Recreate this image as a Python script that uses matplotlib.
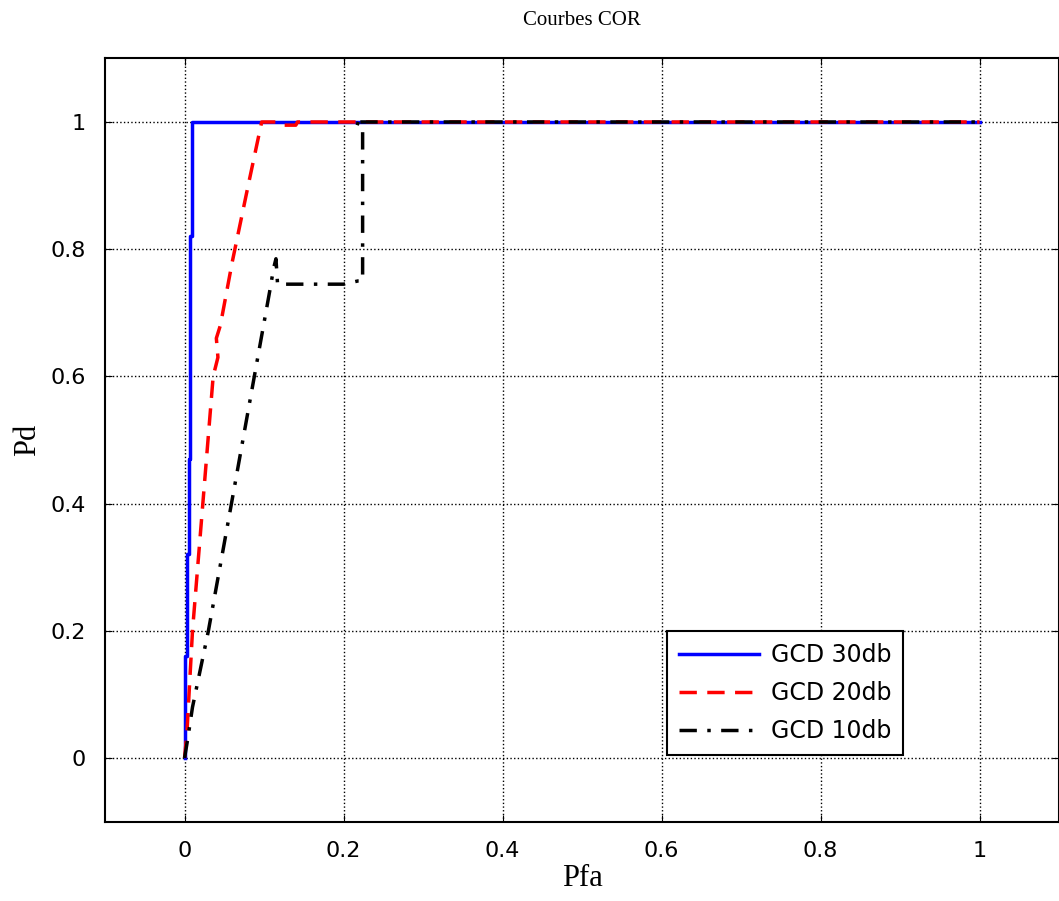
import numpy as np
import matplotlib.pyplot as plt

# ROC curves (Pfa vs Pd) for three SNR levels
pfa_30 = [0, 0, 0.003, 0.003, 0.005, 0.005, 0.007, 0.007, 0.009, 0.009, 1.0]
pd_30 = [0, 0.16, 0.16, 0.32, 0.32, 0.47, 0.47, 0.82, 0.82, 1.0, 1.0]

pfa_20 = [0, 0.003, 0.010, 0.023, 0.036, 0.042, 0.040, 0.045, 0.060,
          0.080, 0.097, 0.120, 0.125, 0.140, 0.142, 1.0]
pd_20 = [0, 0.04, 0.20, 0.40, 0.60, 0.63, 0.66, 0.68, 0.78,
         0.90, 1.0, 1.0, 0.995, 0.995, 1.0, 1.0]

pfa_10 = [0, 0.004, 0.010, 0.030, 0.059, 0.082, 0.108, 0.112, 0.115,
          0.117, 0.200, 0.218, 0.224, 0.224, 0.212, 0.226, 1.0]
pd_10 = [0, 0.03, 0.08, 0.20, 0.40, 0.56, 0.74, 0.77, 0.785,
         0.745, 0.745, 0.75, 0.75, 0.995, 1.0, 1.0, 1.0]

labels = ['GCD 30db', 'GCD 20db', 'GCD 10db']
ticks = [0, 0.2, 0.4, 0.6, 0.8, 1]
tick_labels = ['0', '0.2', '0.4', '0.6', '0.8', '1']

fig = plt.figure(figsize=(10.59, 9.01), dpi=100)
ax = fig.add_axes([0.0992, 0.0881, 0.9008, 0.8471])

ax.plot(pfa_30, pd_30, color='b', linestyle='-', linewidth=2.5, label=labels[0])
ax.plot(pfa_20, pd_20, color='r', linestyle='--', linewidth=2.5,
        dashes=(5, 3), label=labels[1])
ax.plot(pfa_10, pd_10, color='k', linestyle='-.', linewidth=2.5,
        dashes=(5, 3, 1, 3), label=labels[2])

ax.set_xlim(-0.1, 1.1)
ax.set_ylim(-0.1, 1.1)
ax.set_xticks(ticks)
ax.set_xticklabels(tick_labels)
ax.set_yticks(ticks)
ax.set_yticklabels(tick_labels)
ax.tick_params(direction='in', top=True, right=True, length=5, labelsize=16)
ax.tick_params(axis='x', pad=14)
ax.tick_params(axis='y', pad=14)
ax.grid(True, color='k', linestyle=':', linewidth=1)
for s in ax.spines.values():
    s.set_linewidth(1.5)

ax.set_title('Courbes COR', family='Liberation Serif', fontsize=15, pad=24)
ax.set_xlabel('Pfa', family='Liberation Serif', fontsize=22)
ax.set_ylabel('Pd', family='Liberation Serif', fontsize=22)
ax.xaxis.set_label_coords(0.5, -0.056)
ax.yaxis.set_label_coords(-0.066, 0.5)

leg = ax.legend(loc='lower left', bbox_to_anchor=(0.589, 0.087),
                fancybox=False, edgecolor='k', framealpha=1,
                handlelength=3.4, handletextpad=0.5, borderpad=0.5,
                labelspacing=0.6, borderaxespad=0,
                prop={'family': 'DejaVu Sans', 'size': 17})
leg.get_frame().set_linewidth(1.5)

fig.savefig('out.png', dpi=100)
